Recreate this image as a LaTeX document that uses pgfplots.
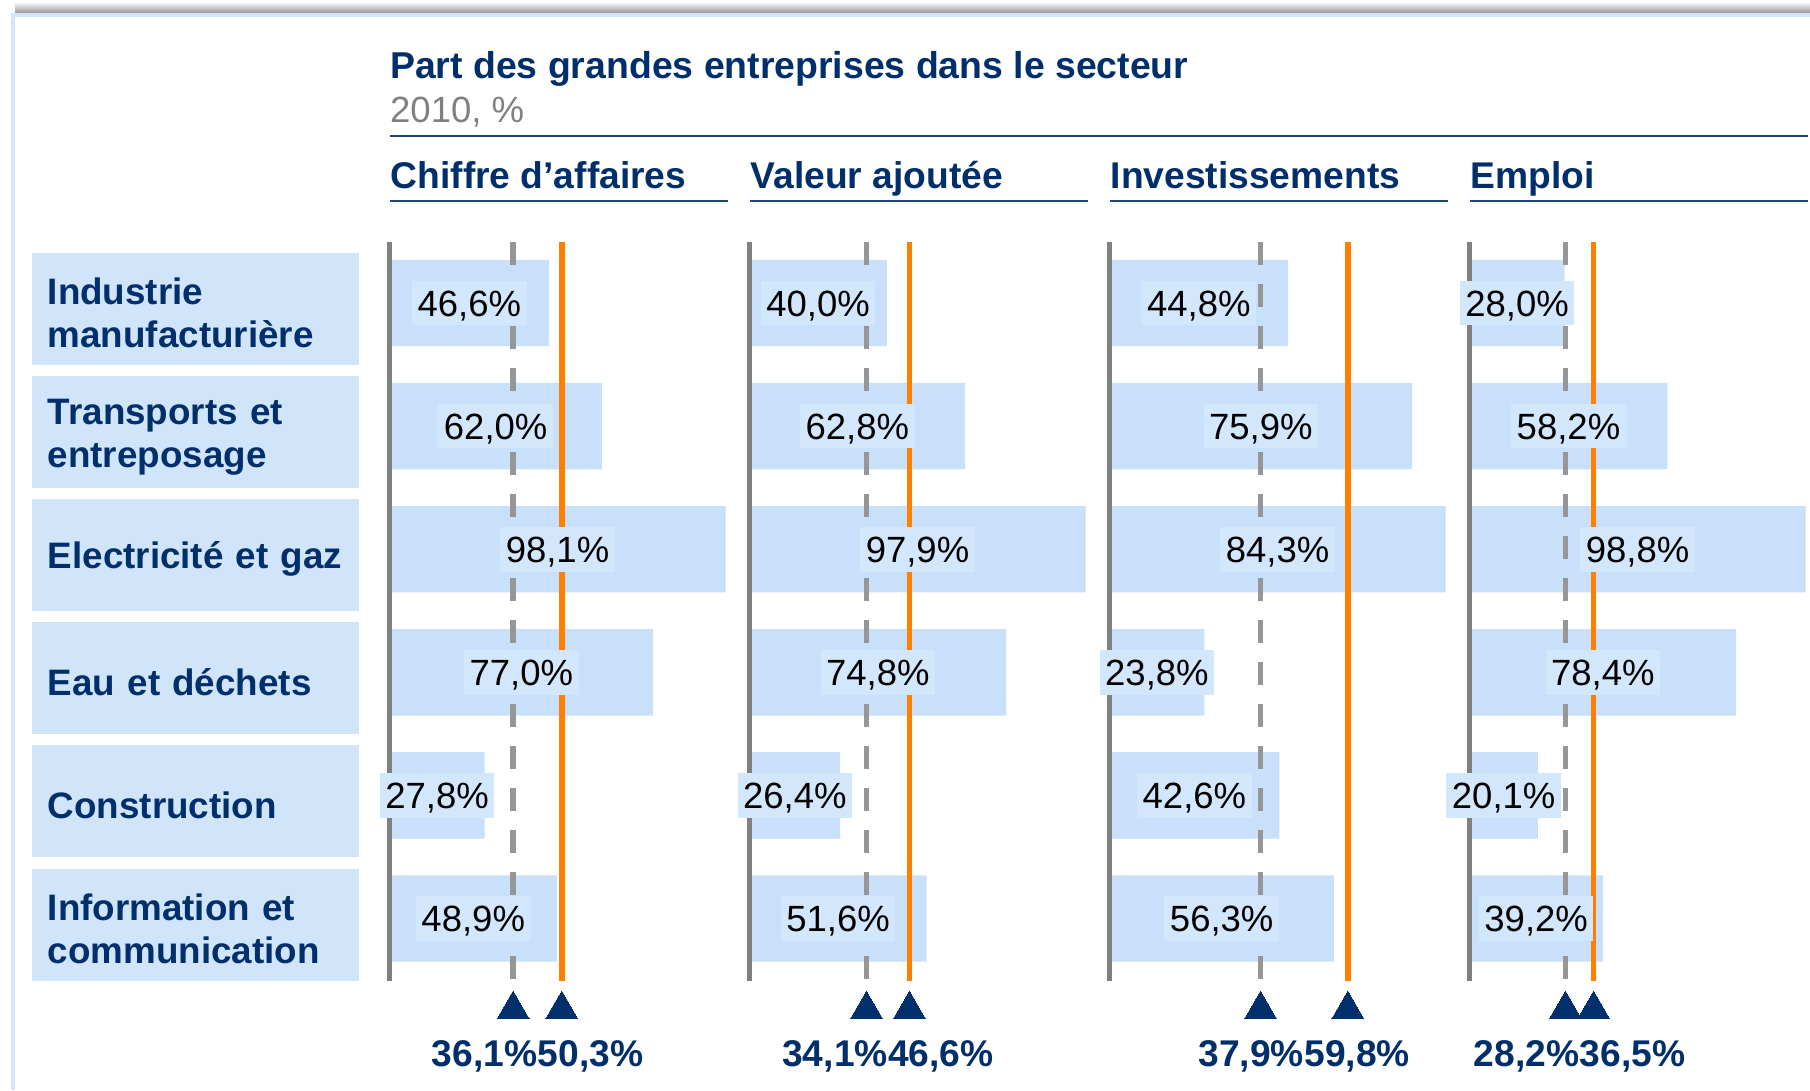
\documentclass[border=0pt]{standalone}
\usepackage{pgfplots}
\pgfplotsset{compat=1.18}
\usepackage{pgfplotstable}
\usepackage{fontspec}
\setmainfont{Liberation Sans}
\definecolor{navy}{RGB}{0,47,108}
\definecolor{barblue}{RGB}{200,224,250}
\definecolor{labblue}{RGB}{210,230,252}
\definecolor{catblue}{RGB}{208,228,250}
\definecolor{frameblue}{RGB}{213,230,250}
\definecolor{basegray}{RGB}{128,128,128}
\definecolor{dashgray}{RGB}{150,150,150}
\definecolor{orng}{RGB}{255,128,0}
\definecolor{subgray}{RGB}{128,128,128}
\definecolor{rulecol}{RGB}{30,70,125}
\newcommand{\fs}{\fontsize{36.5}{42.7}\selectfont}
\newcommand{\fb}{\fontsize{37.2}{42.7}\selectfont\bfseries}
\newcommand{\fc}{\fontsize{36.8}{42.7}\selectfont\bfseries}

\pgfplotstableread{
row ca va inv emp
0 46.6 40.0 44.8 28.0
1 62.0 62.8 75.9 58.2
2 98.1 97.9 84.3 98.8
3 77.0 74.8 23.8 78.4
4 27.8 26.4 42.6 20.1
5 48.9 51.6 56.3 39.2
}\data

\pgfplotsset{
  /pgf/number format/.cd, use comma, fixed, fixed zerofill, precision=1, assume math mode=true,
  /pgfplots/.cd,
  panel/.style={scale only axis, width=336pt, height=738.7pt, xmin=0,
    ymin=-0.4955, ymax=5.505, y dir=reverse, clip=false,
    axis line style={draw=none}, tick style={draw=none},
    xtick=\empty, ytick=\empty, anchor=south west},
}

% #1 x origin, #2 xmax, #3 column, #4 sector mean, #5 overall mean, #6 midpoint, #7 extra options
\newcommand{\panel}[7]{%
\begin{axis}[panel, at={(#1pt,109.3pt)}, xmax=#2, #7]
\addplot[xbar, bar width=86.4pt, fill=barblue, draw=none] table[x=#3, y=row]{\data};
\addplot[basegray, line width=5.5pt] coordinates {(0,-0.4955) (0,5.505)};
\addplot[dashgray, line width=5.5pt, dash pattern=on 23pt off 19pt] coordinates {(#4,-0.4955) (#4,5.505)};
\addplot[orng, line width=5.5pt] coordinates {(#5,-0.4955) (#5,5.505)};
\addplot[draw=none, mark=none, point meta=\thisrow{#3},
  nodes near coords={\pgfmathprintnumber{\pgfplotspointmeta}\%},
  every node near coord/.append style={anchor=center, fill=labblue, text=black,
    inner xsep=5.5pt, inner ysep=0pt, text height=35.6pt, text depth=9.1pt, font=\fs}]
  table[x expr=\thisrow{#3}/2, y=row]{\data};
\addplot[only marks, mark=triangle*, mark size=18.5pt, navy, line width=0pt] coordinates {(#4,5.739) (#5,5.739)};
\node[anchor=base east, inner sep=0pt, text=navy, font=\fb] at (axis cs:#6,6.204) {\pgfmathprintnumber{#4}\%};
\node[anchor=base west, inner sep=0pt, text=navy, font=\fb] at (axis cs:#6,6.204) {\pgfmathprintnumber{#5}\%};
\end{axis}}

\begin{document}
\begin{tikzpicture}
\path[use as bounding box, fill=white] (0,0) rectangle (1810pt,1090pt);
% frame
\shade[top color=white, bottom color=black!45] (15pt,1076pt) rectangle (1810pt,1088pt);
\draw[frameblue, line width=4pt] (13pt,0pt) -- (13pt,1074.5pt) -- (1810pt,1074.5pt);

\panel{389.5}{98.1}{ca}{36.1}{50.3}{43.2}{ytick={0,...,5},
  yticklabels={{Industrie\\manufacturière},{Transports et\\entreposage},{Electricité et gaz},{Eau et déchets},{Construction},{Information et\\communication}},
  yticklabel style={anchor=east, xshift=-30.5pt, yshift=-6pt, fill=catblue, text=navy,
    font=\fc, align=left, text width=295pt, inner xsep=16pt, minimum height=112pt,
    execute at begin node={\rule{0pt}{35pt}}}}
\panel{749.5}{97.9}{va}{34.1}{46.6}{40.35}{}
\panel{1109.5}{84.3}{inv}{37.9}{59.8}{48.85}{}
\panel{1469.5}{98.8}{emp}{28.2}{36.5}{32.35}{}

% titles
\node[anchor=base west, inner sep=0pt, text=navy, font=\fontsize{37.4}{44}\selectfont\bfseries] at (390pt,1011pt) {Part des grandes entreprises dans le secteur};
\node[anchor=base west, inner sep=0pt, text=subgray, font=\fs] at (390pt,967.7pt) {2010, \%};
\draw[rulecol, line width=2pt] (390pt,954.3pt) -- (1808pt,954.3pt);
\foreach \x/\t in {389.5/{Chiffre d’affaires}, 749.5/{Valeur ajoutée}, 1109.5/{Investissements}, 1469.5/{Emploi}} {
  \node[anchor=base west, inner sep=0pt, text=navy, font=\fb] at (\x pt+1pt,901.7pt) {\t};
  \draw[rulecol, line width=2pt] (\x pt,889pt) -- (\x pt+338pt,889pt);
}
\end{tikzpicture}
\end{document}
